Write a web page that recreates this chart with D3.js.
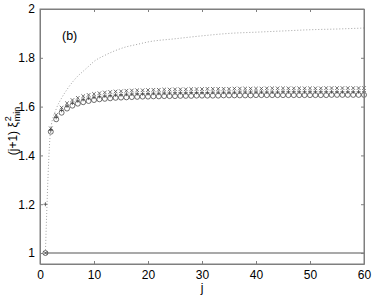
<!DOCTYPE html>
<html>
<head>
<meta charset="utf-8">
<script src="https://cdn.jsdelivr.net/npm/d3@7"></script>
<style>
  body { margin: 0; background: #fff; }
  svg text { font-family: "Liberation Sans", Arial, sans-serif; fill: #000; }
</style>
</head>
<body>
<svg id="chart" width="374" height="296"></svg>
<script>
// x positions: j = 1..60
const jValues = d3.range(1, 61);

// circle markers
const circleVals = [
  1.000, 1.497, 1.548, 1.575, 1.592, 1.604, 1.612, 1.618, 1.623, 1.627,
  1.630, 1.632, 1.634, 1.636, 1.637, 1.638, 1.639, 1.640, 1.641, 1.641,
  1.642, 1.642, 1.643, 1.643, 1.643, 1.644, 1.644, 1.644, 1.645, 1.645,
  1.645, 1.645, 1.645, 1.646, 1.646, 1.646, 1.646, 1.646, 1.646, 1.647,
  1.647, 1.647, 1.647, 1.647, 1.647, 1.647, 1.647, 1.647, 1.647, 1.647,
  1.647, 1.647, 1.647, 1.648, 1.648, 1.648, 1.648, 1.648, 1.648, 1.648
];
// plus markers
const plusVals = [
  1.200, 1.503, 1.556, 1.585, 1.603, 1.615, 1.624, 1.630, 1.635, 1.639,
  1.642, 1.644, 1.646, 1.648, 1.649, 1.651, 1.652, 1.653, 1.653, 1.654,
  1.655, 1.655, 1.656, 1.656, 1.657, 1.657, 1.657, 1.658, 1.658, 1.658,
  1.658, 1.659, 1.659, 1.659, 1.659, 1.659, 1.660, 1.660, 1.660, 1.660,
  1.660, 1.660, 1.660, 1.660, 1.661, 1.661, 1.661, 1.661, 1.661, 1.661,
  1.661, 1.661, 1.661, 1.661, 1.661, 1.661, 1.661, 1.661, 1.661, 1.661
];
// cross markers
const crossVals = [
  1.000, 1.511, 1.566, 1.596, 1.614, 1.627, 1.636, 1.643, 1.648, 1.652,
  1.655, 1.658, 1.660, 1.662, 1.663, 1.665, 1.666, 1.667, 1.667, 1.668,
  1.669, 1.669, 1.670, 1.670, 1.671, 1.671, 1.671, 1.672, 1.672, 1.672,
  1.673, 1.673, 1.673, 1.673, 1.673, 1.674, 1.674, 1.674, 1.674, 1.674,
  1.674, 1.675, 1.675, 1.675, 1.675, 1.675, 1.675, 1.675, 1.675, 1.675,
  1.675, 1.675, 1.676, 1.676, 1.676, 1.676, 1.676, 1.676, 1.676, 1.676
];
// dotted curve
const dottedJ = [1, 2, 3, 4, 5, 6, 7, 8, 9, 10, 12, 14, 16, 18, 20, 25, 30, 35, 40, 45, 50, 55, 60];
const dottedVals = [1.0, 1.51, 1.59, 1.635, 1.67, 1.70, 1.725, 1.745, 1.765, 1.785, 1.81, 1.83,
  1.845, 1.855, 1.865, 1.878, 1.89, 1.90, 1.905, 1.91, 1.915, 1.918, 1.922];
// solid reference line
const refJ = [1, 60];
const refVals = [1, 1];

const xTicks = [0, 10, 20, 30, 40, 50, 60];
const yTicks = [1, 1.2, 1.4, 1.6, 1.8, 2];

const margin = {top: 9, right: 10, bottom: 32, left: 40};
const width = 374, height = 296;
const axisCol = '#7f7f7f';

const x = d3.scaleLinear().domain([0, 60]).range([margin.left, width - margin.right]);
const y = d3.scaleLinear().domain([0.955, 2]).range([height - margin.bottom, margin.top]);

const svg = d3.select('#chart');

// solid line at 1
svg.append('path')
    .datum(refJ.map((j, i) => [j, refVals[i]]))
    .attr('fill', 'none')
    .attr('stroke', '#8c8c8c')
    .attr('stroke-width', 1.5)
    .attr('d', d3.line().x(d => x(d[0])).y(d => y(d[1])));

// dotted curve
svg.append('path')
    .datum(dottedJ.map((j, i) => [j, dottedVals[i]]))
    .attr('fill', 'none')
    .attr('stroke', '#999')
    .attr('stroke-width', 0.9)
    .attr('stroke-dasharray', '1,2')
    .attr('d', d3.line().curve(d3.curveMonotoneX).x(d => x(d[0])).y(d => y(d[1])));

const mk = '#333';

// circles
svg.append('g').selectAll('circle')
    .data(jValues.map((j, i) => [j, circleVals[i]]))
    .enter().append('circle')
    .attr('cx', d => x(d[0]))
    .attr('cy', d => y(d[1]))
    .attr('r', 2.5)
    .attr('fill', 'none')
    .attr('stroke', mk)
    .attr('stroke-width', 0.7);

// plus
svg.append('g').selectAll('path')
    .data(jValues.map((j, i) => [j, plusVals[i]]))
    .enter().append('path')
    .attr('transform', d => 'translate(' + x(d[0]) + ',' + y(d[1]) + ')')
    .attr('d', 'M-2,0H2M0,-2V2')
    .attr('stroke', mk)
    .attr('stroke-width', 0.7);

// crosses
svg.append('g').selectAll('path')
    .data(jValues.map((j, i) => [j, crossVals[i]]))
    .enter().append('path')
    .attr('transform', d => 'translate(' + x(d[0]) + ',' + y(d[1]) + ')')
    .attr('d', 'M-1.8,-1.8L1.8,1.8M-1.8,1.8L1.8,-1.8')
    .attr('stroke', mk)
    .attr('stroke-width', 0.7);

// frame box
const x0 = x.range()[0], x1 = x.range()[1], y0 = y.range()[0], y1 = y.range()[1];
svg.append('rect')
    .attr('x', x0).attr('y', y1)
    .attr('width', x1 - x0).attr('height', y0 - y1)
    .attr('fill', 'none').attr('stroke', axisCol).attr('stroke-width', 1);

// axes with inward ticks
const xAxis = svg.append('g').attr('transform', 'translate(0,' + y0 + ')')
    .call(d3.axisBottom(x).tickValues(xTicks).tickSizeInner(-3).tickSizeOuter(0).tickPadding(6));
const xTop = svg.append('g').attr('transform', 'translate(0,' + y1 + ')')
    .call(d3.axisTop(x).tickValues(xTicks).tickSizeInner(-3).tickSizeOuter(0).tickFormat(''));
const yAxis = svg.append('g').attr('transform', 'translate(' + x0 + ',0)')
    .call(d3.axisLeft(y).tickValues(yTicks).tickSizeInner(-3).tickSizeOuter(0).tickPadding(5)
        .tickFormat(d => d === 1 || d === 2 ? d3.format('d')(d) : d3.format('.1f')(d)));
const yRight = svg.append('g').attr('transform', 'translate(' + x1 + ',0)')
    .call(d3.axisRight(y).tickValues(yTicks).tickSizeInner(-3).tickSizeOuter(0).tickFormat(''));

[xAxis, xTop, yAxis, yRight].forEach(g => {
    g.select('.domain').attr('stroke', axisCol);
    g.selectAll('.tick line').attr('stroke', axisCol);
    g.selectAll('.tick text').attr('font-size', 12).attr('fill', '#000')
        .style('font-family', '"Liberation Sans", Arial, sans-serif');
});

// panel label
svg.append('text').attr('x', 62).attr('y', 40).attr('font-size', 12.5).text('(b)');

// axis labels
svg.append('text').attr('x', (x0 + x1) / 2).attr('y', 292)
    .attr('text-anchor', 'middle').attr('font-size', 12).text('j');

const yl = svg.append('text')
    .attr('transform', 'translate(17,' + 131 + ') rotate(-90)')
    .attr('text-anchor', 'middle').attr('font-size', 12);
yl.append('tspan').text('(j+1) ξ');
yl.append('tspan').attr('font-size', 9).attr('dx', 1).attr('dy', -6).text('2');
yl.append('tspan').attr('font-size', 9).attr('dx', -5).attr('dy', 9).text('min');
</script>
</body>
</html>
